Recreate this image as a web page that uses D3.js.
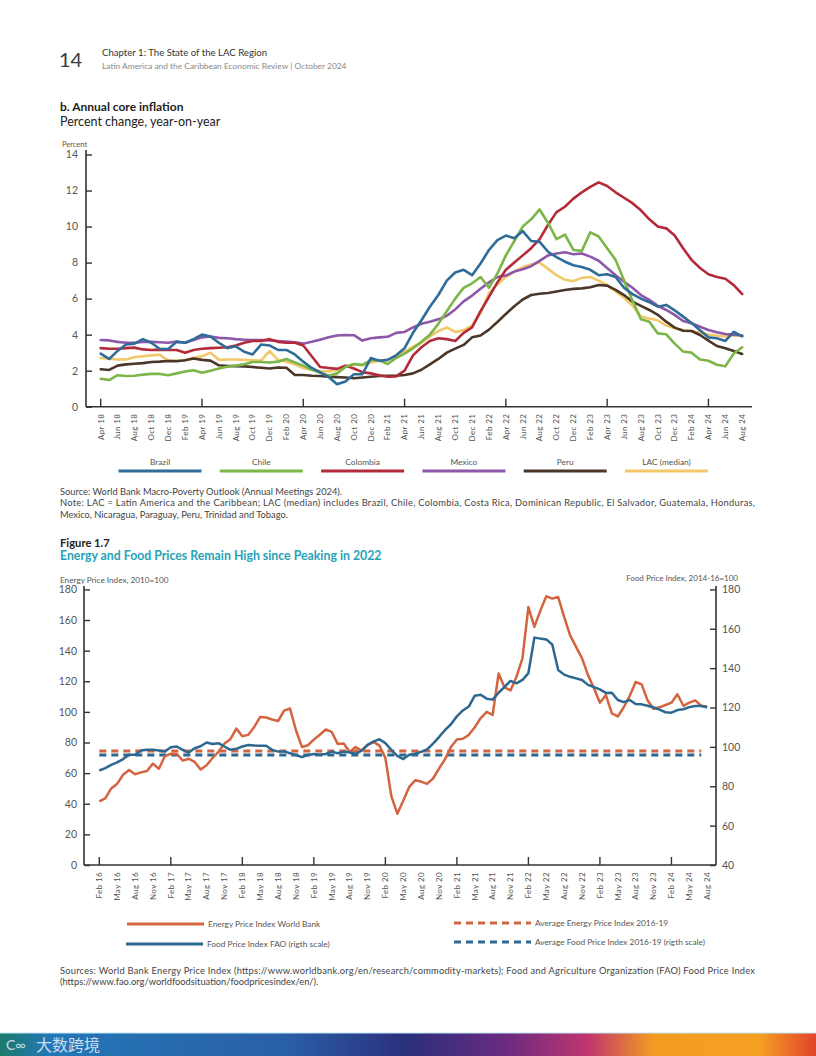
<!DOCTYPE html>
<html><head><meta charset="utf-8">
<script src="https://cdn.jsdelivr.net/npm/d3@7"></script>
<style>
body{margin:0;background:#fff;}
svg{display:block;font-family:Lato,"Open Sans",sans-serif;}
</style></head>
<body><svg id="c" width="816" height="1056"></svg>
<script>
// ---------- Chart b: annual core inflation (Apr 2018 – Aug 2024, monthly) ----------
const inflSeriesNames = ["Brazil","Chile","Colombia","Mexico","Peru","LAC (median)"];
const brazil = [2.95,2.65,3.1,3.45,3.5,3.75,3.55,3.2,3.2,3.6,3.55,3.75,4.0,3.9,3.55,3.25,3.35,3.05,2.9,3.45,3.4,3.15,3.15,2.9,2.5,2.15,1.9,1.65,1.25,1.4,1.8,1.8,2.7,2.55,2.6,2.85,3.25,4.1,4.8,5.55,6.2,7.0,7.45,7.6,7.3,7.95,8.7,9.25,9.5,9.35,9.75,9.2,9.15,8.6,8.3,8.05,7.85,7.75,7.6,7.3,7.35,7.2,6.6,6.25,6.0,5.8,5.55,5.65,5.35,5.0,4.65,4.25,3.85,3.8,3.65,4.15,3.9];
const chile = [1.55,1.48,1.75,1.7,1.72,1.78,1.82,1.82,1.75,1.85,1.95,2.02,1.88,2.0,2.12,2.22,2.28,2.35,2.48,2.48,2.45,2.5,2.65,2.45,2.28,2.05,1.9,1.72,1.85,2.2,2.37,2.32,2.58,2.58,2.37,2.7,2.95,3.24,3.6,4.0,4.6,5.3,6.0,6.6,6.85,7.2,6.6,7.4,8.4,9.2,10.0,10.4,10.95,10.2,9.3,9.55,8.7,8.65,9.68,9.45,8.8,8.15,7.0,5.9,4.85,4.72,4.07,4.02,3.5,3.06,3.0,2.62,2.55,2.33,2.24,2.95,3.3];
const colombia = [3.25,3.22,3.22,3.25,3.28,3.18,3.15,3.17,3.15,3.15,3.0,3.15,3.22,3.25,3.27,3.3,3.4,3.55,3.65,3.65,3.75,3.6,3.55,3.55,3.4,2.8,2.2,2.15,2.1,2.28,2.12,1.92,1.85,1.75,1.66,1.68,2.0,2.85,3.3,3.65,3.8,3.75,3.65,4.1,4.4,5.3,6.1,6.9,7.6,8.0,8.4,8.8,9.3,10.1,10.8,11.1,11.55,11.9,12.2,12.45,12.25,11.9,11.6,11.3,10.9,10.4,10.0,9.9,9.5,8.8,8.15,7.7,7.35,7.2,7.1,6.75,6.25];
const mexico = [3.7,3.68,3.6,3.55,3.55,3.6,3.6,3.58,3.55,3.62,3.55,3.7,3.85,3.9,3.82,3.8,3.75,3.72,3.7,3.7,3.68,3.65,3.62,3.58,3.5,3.6,3.72,3.85,3.95,3.98,3.97,3.67,3.8,3.85,3.88,4.1,4.15,4.4,4.6,4.72,4.85,5.05,5.4,5.85,6.17,6.55,6.9,7.2,7.28,7.5,7.63,7.8,8.1,8.4,8.5,8.57,8.46,8.5,8.33,8.1,7.7,7.3,6.94,6.6,6.2,5.93,5.6,5.37,5.1,4.76,4.63,4.44,4.26,4.13,4.04,4.0,3.95];
const peru = [2.08,2.04,2.28,2.35,2.38,2.42,2.48,2.5,2.54,2.52,2.58,2.68,2.6,2.56,2.3,2.26,2.25,2.24,2.2,2.16,2.12,2.18,2.16,1.76,1.76,1.72,1.7,1.67,1.64,1.62,1.58,1.62,1.66,1.7,1.72,1.72,1.76,1.85,2.05,2.35,2.65,3.0,3.22,3.43,3.85,3.95,4.28,4.7,5.15,5.58,5.95,6.2,6.27,6.31,6.39,6.48,6.54,6.57,6.63,6.76,6.72,6.48,6.2,5.83,5.6,5.37,5.1,4.72,4.39,4.22,4.2,3.98,3.67,3.37,3.24,3.09,2.93];
const lacMedian = [2.7,2.67,2.62,2.62,2.75,2.8,2.85,2.88,2.56,2.56,2.58,2.72,2.8,3.0,2.6,2.62,2.62,2.6,2.58,2.56,3.08,2.6,2.5,2.35,2.15,2.05,1.98,1.95,2.05,2.25,2.35,2.3,2.45,2.55,2.6,2.8,3.05,3.33,3.55,3.9,4.2,4.4,4.15,4.25,4.5,5.2,6.3,6.8,7.2,7.5,7.75,7.9,8.0,7.65,7.3,7.05,6.97,7.15,7.2,7.0,6.75,6.4,6.05,5.6,5.0,4.9,4.8,4.5,4.35,4.25,4.2,4.1,4.0,3.95,3.9,3.95,3.95];
const inflTickLabels = ["Apr 18","Jun 18","Aug 18","Oct 18","Dec 18","Feb 19","Apr 19","Jun 19","Aug 19","Oct 19","Dec 19","Feb 20","Apr 20","Jun 20","Aug 20","Oct 20","Dec 20","Feb 21","Apr 21","Jun 21","Aug 21","Oct 21","Dec 21","Feb 22","Apr 22","Jun 22","Aug 22","Oct 22","Dec 22","Feb 23","Apr 23","Jun 23","Aug 23","Oct 23","Dec 23","Feb 24","Apr 24","Jun 24","Aug 24"];
const inflYTicks = [0,2,4,6,8,10,12,14];

// ---------- Figure 1.7: energy and food prices (Feb 2016 – Aug 2024, monthly) ----------
const energyIndex = [41.5,43.5,50,53,59,62,59.3,60.5,61.4,66.2,62.9,71,72.7,72.5,68.2,69.4,67.3,62.4,65.1,69.9,73.9,79.3,82.2,89.1,84.1,85.0,90.2,96.7,96.3,95.0,94.0,100.8,102.2,88.0,77.1,78.2,81.9,85.1,88.5,86.9,79.1,79.3,73.9,77.1,74.7,78.2,80.4,78.0,70.0,45.0,33.5,42.0,51.0,55.3,54.5,53.0,56.5,63.0,69.0,77.0,82.0,82.5,85.0,90.0,96.0,100.0,98.0,125.0,116.0,114.0,123.0,135.0,168.5,155.5,166.0,175.5,174.0,175.0,162.0,150.0,142.5,135.0,124.0,115.5,106.0,111.0,99.0,97.0,103.0,110.5,119.5,118.0,107.5,102.0,103.0,104.5,106.0,111.5,104.0,106.0,107.5,104.0,103.3];
const foodIndex = [88.0,89.2,90.9,92.1,93.8,96.0,96.0,98.2,98.5,98.5,98.2,97.6,99.8,100.2,98.5,97.1,99.3,100.3,102.2,101.5,101.9,100.2,98.5,99.0,100.2,101.0,100.7,100.6,100.6,98.5,97.6,97.7,96.8,95.9,94.8,95.9,96.4,96.0,96.4,97.6,96.8,97.6,97.1,96.5,98.1,101.0,102.7,103.9,101.9,98.5,95.4,93.8,96.0,96.5,97.5,98.7,101.7,105.0,108.5,111.5,115.5,118.5,120.5,126.0,126.5,124.5,124.0,127.5,130.5,133.5,132.3,134.0,137.5,155.5,155.0,154.6,152.0,139.1,136.7,135.6,134.8,134.0,131.5,130.4,129.2,127.4,127.5,123.8,122.7,123.8,121.8,121.6,120.9,120.0,118.9,117.6,117.4,118.7,119.1,120.2,120.8,120.8,120.1];
const avgEnergy2016_19 = 74.5;
const avgFood2016_19 = 95.9;
const priceTickLabels = ["Feb 16","May 16","Aug 16","Nov 16","Feb 17","May 17","Aug 17","Nov 17","Feb 18","May 18","Aug 18","Nov 18","Feb 19","May 19","Aug 19","Nov 19","Feb 20","May 20","Aug 20","Nov 20","Feb 21","May 21","Aug 21","Nov 21","Feb 22","May 22","Aug 22","Nov 22","Feb 23","May 23","Aug 23","Nov 23","Feb 24","May 24","Aug 24"];
const leftYTicks = [0,20,40,60,80,100,120,140,160,180];
const rightYTicks = [40,60,80,100,120,140,160,180];

// ---------------------------------------------------------------------
const svg = d3.select("#c");
const AX = "#333", TXT = "#555";

// header
svg.append("text").attr("x",59).attr("y",67).attr("font-size",20).attr("fill","#3a3a3a").text("14");
svg.append("text").attr("x",102).attr("y",56).attr("font-size",9.6).attr("fill","#333").text("Chapter 1: The State of the LAC Region");
svg.append("text").attr("x",102).attr("y",69).attr("font-size",8.4).attr("fill","#8a8a8a").text("Latin America and the Caribbean Economic Review | October 2024");

svg.append("text").attr("x",60).attr("y",111).attr("font-size",12).attr("font-weight","bold").attr("fill","#222").text("b. Annual core inflation");
svg.append("text").attr("x",60).attr("y",126).attr("font-size",12.5).attr("fill","#222").text("Percent change, year-on-year");
svg.append("text").attr("x",62).attr("y",147).attr("font-size",7.5).attr("fill",TXT).text("Percent");

// ---- chart 1 ----
const n1 = brazil.length;
const x1 = d3.scaleLinear().domain([0, n1-1]).range([100.7, 742.2]);
const y1 = d3.scaleLinear().domain([0,14]).range([406.7,154.5]);
const g1 = svg.append("g");

function styleAxis(g){
  g.selectAll(".domain").attr("stroke",AX).attr("stroke-width",1.6);
  g.selectAll(".tick line").attr("stroke",AX).attr("stroke-width",1.4);
  g.selectAll("text").attr("fill",TXT).attr("font-family","Lato, sans-serif");
}
const ya1 = g1.append("g").attr("transform","translate(86,0)")
  .call(d3.axisLeft(y1).tickValues(inflYTicks).tickSize(-6).tickPadding(8).tickSizeOuter(0));
ya1.select(".domain").attr("d","M0,150V406.7");
styleAxis(ya1); ya1.selectAll("text").attr("font-size",10.5);

// x axis: line + major ticks at April
const xaxis1 = g1.append("g").attr("transform","translate(0,406.7)");
xaxis1.append("line").attr("x1",86).attr("x2",752).attr("stroke",AX).attr("stroke-width",1.6);
const majors1 = d3.range(0, n1, 12);
xaxis1.selectAll(".mt").data(majors1).join("line").attr("class","mt")
  .attr("x1",d=>x1(d)).attr("x2",d=>x1(d)).attr("y1",0).attr("y2",-8).attr("stroke",AX).attr("stroke-width",1.4);
xaxis1.selectAll(".lb").data(inflTickLabels).join("text").attr("class","lb")
  .attr("transform",(d,i)=>`translate(${x1(i*2)+2.8},7) rotate(-90)`)
  .attr("text-anchor","end").attr("font-size",8).attr("fill",TXT).attr("letter-spacing",0.4).text(d=>d);

const inflSeries = [
  {name:"LAC (median)", v:lacMedian, c:"#f2c86a"},
  {name:"Peru", v:peru, c:"#4b3729"},
  {name:"Mexico", v:mexico, c:"#8d57aa"},
  {name:"Colombia", v:colombia, c:"#b52a3a"},
  {name:"Chile", v:chile, c:"#7cb548"},
  {name:"Brazil", v:brazil, c:"#2f6c98"}
];
const line1 = d3.line().x((d,i)=>x1(i)).y(d=>y1(d));
g1.selectAll(".s").data(inflSeries).join("path").attr("class","s")
  .attr("d",d=>line1(d.v)).attr("fill","none").attr("stroke",d=>d.c)
  .attr("stroke-width",2.6).attr("stroke-linejoin","round").attr("stroke-linecap","round");

// legend 1
const colorOf = Object.fromEntries(inflSeries.map(s=>[s.name,s.c]));
const lg1 = g1.selectAll(".lg").data(inflSeriesNames).join("g").attr("class","lg")
  .attr("transform",(d,i)=>`translate(${160+i*101.3},0)`);
lg1.append("text").attr("y",465).attr("text-anchor","middle").attr("font-size",8.4).attr("fill",TXT).text(d=>d);
lg1.append("line").attr("x1",-41.5).attr("x2",41.5).attr("y1",471).attr("y2",471)
  .attr("stroke",d=>colorOf[d]).attr("stroke-width",3);

// notes 1
const note1 = ["Source: World Bank Macro-Poverty Outlook (Annual Meetings 2024).",
"Note: LAC = Latin America and the Caribbean; LAC (median) includes Brazil, Chile, Colombia, Costa Rica, Dominican Republic, El Salvador, Guatemala, Honduras,",
"Mexico, Nicaragua, Paraguay, Peru, Trinidad and Tobago."];
svg.selectAll(".n1").data(note1).join("text").attr("class","n1").attr("x",60).attr("y",(d,i)=>494.5+i*11.5)
  .attr("font-size",9.3).attr("fill","#444").text(d=>d)
  .each(function(d,i){ if(i===1) d3.select(this).attr("textLength",695).attr("lengthAdjust","spacing"); });

// ---- figure 1.7 ----
svg.append("text").attr("x",60).attr("y",547).attr("font-size",11.2).attr("font-weight","bold").attr("fill","#222").text("Figure 1.7");
svg.append("text").attr("x",60).attr("y",559.5).attr("font-size",12.3).attr("font-weight","bold").attr("fill","#27a2b7").text("Energy and Food Prices Remain High since Peaking in 2022");
svg.append("text").attr("x",60).attr("y",583).attr("font-size",8.2).attr("fill",TXT).text("Energy Price Index, 2010=100");
svg.append("text").attr("x",738).attr("y",580.5).attr("text-anchor","end").attr("font-size",8).attr("fill",TXT).text("Food Price Index, 2014-16=100");

const n2 = energyIndex.length;
const x2 = d3.scaleLinear().domain([0,n2-1]).range([99.3,707.2]);
const yL = d3.scaleLinear().domain([0,180]).range([865,589.4]);
const yR = d3.scaleLinear().domain([40,180]).range([865,589.4]);
const g2 = svg.append("g");

const yaL = g2.append("g").attr("transform","translate(84,0)")
  .call(d3.axisLeft(yL).tickValues(leftYTicks).tickSize(-6).tickPadding(7).tickSizeOuter(0));
yaL.select(".domain").attr("d","M0,586V865");
styleAxis(yaL); yaL.selectAll("text").attr("font-size",10.5);
const yaR = g2.append("g").attr("transform","translate(716,0)")
  .call(d3.axisRight(yR).tickValues(rightYTicks).tickSize(-6).tickPadding(6).tickSizeOuter(0));
yaR.select(".domain").attr("d","M0,586V865");
styleAxis(yaR); yaR.selectAll("text").attr("font-size",10.5);

const xaxis2 = g2.append("g").attr("transform","translate(0,865)");
xaxis2.append("line").attr("x1",84).attr("x2",716).attr("stroke",AX).attr("stroke-width",1.6);
xaxis2.selectAll(".mt").data(d3.range(0,n2,12)).join("line").attr("class","mt")
  .attr("x1",d=>x2(d)).attr("x2",d=>x2(d)).attr("y1",0).attr("y2",-8).attr("stroke",AX).attr("stroke-width",1.4);
xaxis2.selectAll(".lb").data(priceTickLabels).join("text").attr("class","lb")
  .attr("transform",(d,i)=>`translate(${x2(i*3)+2.8},7) rotate(-90)`)
  .attr("text-anchor","end").attr("font-size",8).attr("fill",TXT).attr("letter-spacing",0.4).text(d=>d);

const ORANGE = "#d4643f", BLUE = "#2d6891";
// average dashed lines
g2.append("line").attr("x1",x2(0)).attr("x2",x2(101)).attr("y1",yL(avgEnergy2016_19)).attr("y2",yL(avgEnergy2016_19))
  .attr("stroke",ORANGE).attr("stroke-width",3).attr("stroke-dasharray","7,5");
g2.append("line").attr("x1",x2(0)).attr("x2",x2(101)).attr("y1",yR(avgFood2016_19)).attr("y2",yR(avgFood2016_19))
  .attr("stroke",BLUE).attr("stroke-width",3).attr("stroke-dasharray","7,5");

g2.append("path").attr("d",d3.line().x((d,i)=>x2(i)).y(d=>yL(d))(energyIndex))
  .attr("fill","none").attr("stroke",ORANGE).attr("stroke-width",2.5).attr("stroke-linejoin","round");
g2.append("path").attr("d",d3.line().x((d,i)=>x2(i)).y(d=>yR(d))(foodIndex))
  .attr("fill","none").attr("stroke",BLUE).attr("stroke-width",2.5).attr("stroke-linejoin","round");

// legend 2
const leg2 = [
  {t:"Energy Price Index World Bank", c:ORANGE, dash:null, x:127, y:924},
  {t:"Food Price Index FAO (rigth scale)", c:BLUE, dash:null, x:126, y:944},
  {t:"Average Energy Price Index 2016-19", c:ORANGE, dash:"7,5", x:454, y:923},
  {t:"Average Food Price Index 2016-19 (rigth scale)", c:BLUE, dash:"7,5", x:454, y:942}
];
const lg2 = g2.selectAll(".lg2").data(leg2).join("g").attr("class","lg2");
lg2.append("line").attr("x1",d=>d.x).attr("x2",d=>d.x+77).attr("y1",d=>d.y).attr("y2",d=>d.y)
  .attr("stroke",d=>d.c).attr("stroke-width",3).attr("stroke-dasharray",d=>d.dash);
lg2.append("text").attr("x",d=>d.x+81).attr("y",d=>d.y+2.8).attr("font-size",8.3).attr("fill",TXT).text(d=>d.t);

const note2 = ["Sources: World Bank Energy Price Index (https://www.worldbank.org/en/research/commodity-markets); Food and Agriculture Organization (FAO) Food Price Index",
"(https://www.fao.org/worldfoodsituation/foodpricesindex/en/)."];
svg.selectAll(".n2").data(note2).join("text").attr("class","n2").attr("x",60).attr("y",(d,i)=>973.5+i*11.5)
  .attr("font-size",9.3).attr("fill","#444").text(d=>d)
  .each(function(d,i){ if(i===0) d3.select(this).attr("textLength",695).attr("lengthAdjust","spacing"); });

// bottom banner
const defs = svg.append("defs");
const gr = defs.append("linearGradient").attr("id","ban").attr("x1","0").attr("x2","1");
[["0","#1d7a6a"],["0.06","#2277b8"],["0.35","#2a5fa8"],["0.5","#2b2f7c"],["0.62","#6a2b7f"],["0.72","#c0356f"],["0.8","#f29b22"],["0.93","#f5a023"],["1","#e2432c"]]
  .forEach(s=>gr.append("stop").attr("offset",s[0]).attr("stop-color",s[1]));
svg.append("rect").attr("x",0).attr("y",1033).attr("width",816).attr("height",23).attr("fill","url(#ban)");
svg.append("line").attr("x1",0).attr("x2",816).attr("y1",1033).attr("y2",1033).attr("stroke","#bfe3f2").attr("stroke-width",1);
svg.append("text").attr("x",6).attr("y",1050).attr("font-size",14).attr("fill","#e8eef6").attr("opacity",0.85).text("C∞");
svg.append("text").attr("x",36).attr("y",1051).attr("font-size",16).attr("font-family","Noto Sans CJK SC").attr("fill","#e8eef6").attr("opacity",0.85).text("大数跨境");
</script></body></html>
